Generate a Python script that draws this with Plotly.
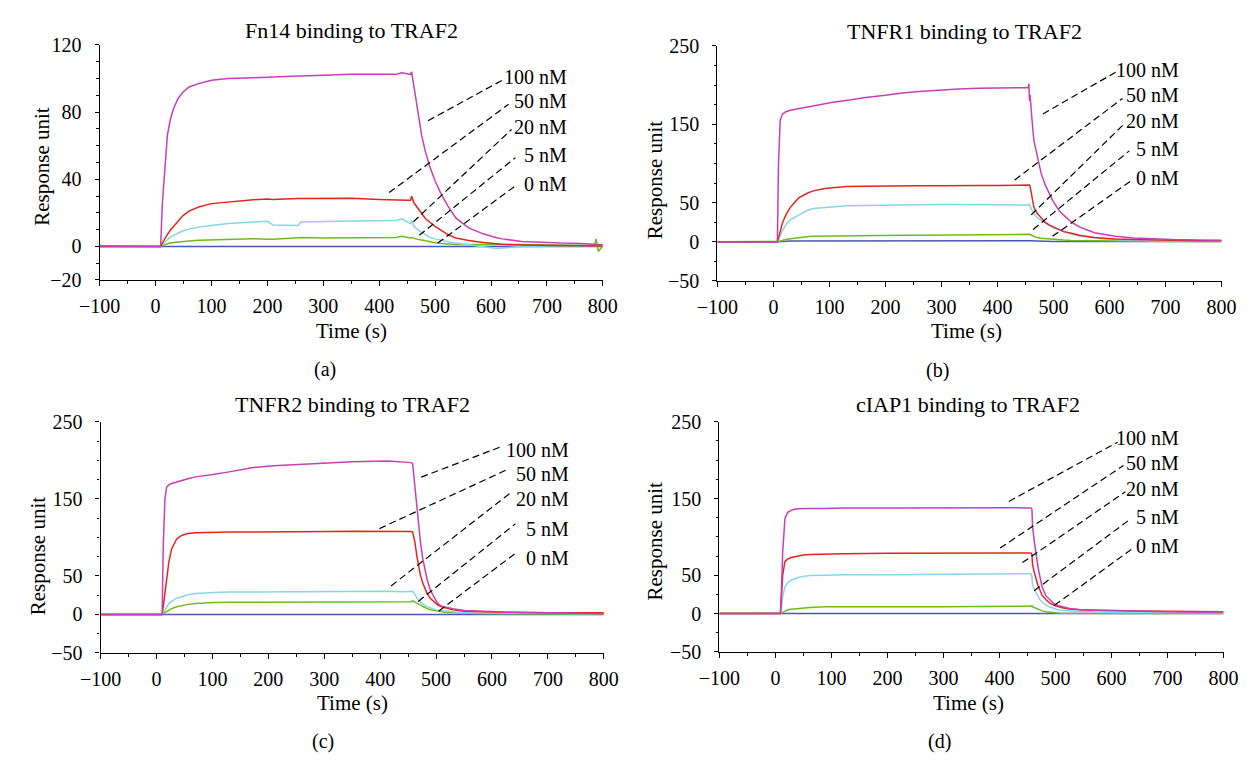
import plotly.graph_objects as go

W, H = 1256, 762
FONT = "Liberation Serif"

# ---------------- data ----------------
SERIES = ["100 nM", "50 nM", "20 nM", "5 nM", "0 nM"]
COLORS = ["#c83fb5", "#e2261d", "#88d5e6", "#6dbd1a", "#4a57b8"]
TITLES = ["Fn14 binding to TRAF2", "TNFR1 binding to TRAF2",
          "TNFR2 binding to TRAF2", "cIAP1 binding to TRAF2"]
TAGS = ["(a)", "(b)", "(c)", "(d)"]
X_TITLE = "Time (s)"
Y_TITLE = "Response unit"
X_TICKS = [-100, 0, 100, 200, 300, 400, 500, 600, 700, 800]
X_MINOR = [-50, 50, 150, 250, 350, 450, 550, 650, 750]
YA_TICKS = [-20, 0, 40, 80, 120]
YA_MINOR = [-10, 10, 20, 30, 50, 60, 70, 90, 100, 110]
YB_TICKS = [-50, 0, 50, 150, 250]
YB_MINOR = [-25, 25, 75, 100, 125, 175, 200, 225]

# Panel (a) Fn14
TA = [-100, -50, 0, 9, 12, 16, 21, 26,
      32, 40, 49, 60, 77, 100, 130, 175,
      200, 210, 255, 260, 300, 350, 400, 430,
      440, 450, 456, 458, 462, 469, 476, 483,
      490, 500, 511, 523, 537, 560, 586, 610,
      620, 655, 700, 725, 760, 785, 788, 792, 800]
A_100 = [0.3, 0, 0, 0, 25, 45, 66, 75,
         82, 88, 92, 95, 97, 99, 100, 100.5,
         101, 101, 101.5, 101.5, 102, 102.5, 102.5, 102.5,
         103.5, 103, 102.5, 104, 95, 81, 66, 56,
         48, 39, 31, 24, 17, 11, 7.5, 5.2,
         4.5, 3, 2.2, 2, 1.8, 1.5, 1.5, 1.2, 1]
A_50 = [0, 0, 0, 0, 2, 4.5, 7, 9.5,
        12, 15, 18.4, 21, 23.5, 25.5, 26.5, 27.8,
        28.3, 28, 28.5, 28.5, 28.5, 28.7, 28, 27.5,
        27.3, 27.5, 27.5, 30, 26, 22.5, 19.6, 16.5,
        14.5, 12, 9.5, 7, 5, 3.5, 2.3, 1.5,
        1.3, 0.9, 0.7, 0.5, 0.5, 0.4, 0.4, 0.3, 0.3]
A_20 = [0, 0, 0, 0, 1, 2.5, 4, 5.5,
        6.5, 8, 9.3, 10.3, 11.5, 12.5, 13.6, 14.5,
        15, 12.8, 12.5, 14.5, 15, 15.2, 15.3, 15.5,
        16.5, 14.5, 13.5, 15.5, 12, 10, 8.5, 7,
        5.5, 4.5, 3.5, 2.8, 2, 1, 0, -1.2,
        -1, 0, 0.3, 0.3, 0.3, 0.3, 0.3, 0.3, 0.3]
A_5 = [0, -0.2, 0, 0, 0.5, 1, 1.5, 2,
       2.3, 2.7, 3, 3.3, 3.7, 4, 4.3, 4.6,
       4.3, 4.3, 5.2, 5.3, 5, 5, 5.2, 5.3,
       6, 5.2, 5, 5.3, 4.8, 4.2, 3.8, 3.3,
       3, 2.2, 1.8, 1.5, 1.2, 1.2, 1.2, 1.3,
       1.5, 1.2, 0.8, 0.7, 0.6, 0.5, 4.5, -3, 0.5]
A0_T = [-100, 800]
A_0 = [0, 0]

# Panel (b) TNFR1
TB = [-100, -50, 0, 7, 9, 12, 16, 22,
      30, 45, 60, 71, 92, 106, 130, 161,
      200, 230, 260, 298, 330, 367, 400, 443,
      455, 456, 457, 458, 459, 462, 465, 470,
      478, 485, 492, 499, 510, 518, 532, 546,
      573, 587, 610, 643, 680, 712, 760, 800]
B_100 = [0, 0, 0, 0, 100, 155, 163, 166,
         168, 170, 172, 174, 176.5, 178, 180.5, 184,
         187, 190, 192, 194, 195, 196, 196.5, 197,
         197, 202, 180, 188, 175, 152, 129, 113,
         87, 73, 62, 52, 40, 34, 25, 19,
         11.5, 9.5, 7, 5, 3.5, 2.8, 2.2, 2]
B_50 = [0, 0, 0, 0, 5, 14, 24, 34,
        44, 56, 62, 65, 68, 69, 70.5, 71,
        71.5, 71.5, 71.5, 71.5, 72, 72, 72, 72,
        72, 72.5, 72.5, 71, 67, 55, 44, 37,
        30, 25, 21.5, 19, 15, 13, 11, 8.5,
        5.5, 4.5, 3.5, 2.8, 2.2, 1.8, 1.5, 1.5]
B_20 = [0, 0, 0, 0, 3, 8, 14, 22,
        28, 34, 40, 42.5, 44, 45, 46, 46.5,
        47, 47, 47.5, 47.5, 47.5, 47.5, 47.5, 47,
        47, 48, 48, 46, 44, 40, 36, 31.5,
        27, 24, 20.5, 18, 15, 13, 10, 7.5,
        5, 4, 3, 2, 1.5, 1.2, 1, 1]
B_5 = [0, 0, 0, 0, 0.5, 1, 2, 3,
       4, 5.5, 6.5, 7, 7.3, 7.5, 7.8, 8,
       8.2, 8.3, 8.3, 8.5, 8.5, 8.8, 9, 9.5,
       10, 10, 10, 9.5, 9, 8, 7, 5.5,
       4.5, 4, 3.5, 3, 2.5, 2.2, 1.8, 1.5,
       1.2, 1, 1, 0.8, 0.7, 0.6, 0.5, 0.5]
B0_T = [-100, 0, 8, 30, 200, 455, 458, 500, 800]
B_0 = [0, 0, 0, 1, 1.5, 2, 1.5, 0.5, 0.5]

# Panel (c) TNFR2
TC = [-100, -50, 0, 10, 12, 15, 18, 22,
      27, 36, 45, 56, 70, 90, 104, 130,
      173, 210, 242, 280, 311, 350, 414, 440,
      455, 458, 462, 466, 469, 472, 476, 479,
      484, 490, 497, 503, 510, 518, 530, 551,
      580, 620, 700, 800]
C_100 = [0, 0, 0, 0, 90, 150, 165, 168,
         170, 172, 174, 176, 178.5, 181, 182, 185,
         190.6, 193, 194, 196, 197, 198, 199, 198,
         197, 196, 168, 136, 112, 94, 73, 61,
         45, 31, 21, 14, 10.5, 9, 7.5, 5,
         4, 3, 2, 1]
C_50 = [0, 0, 0, 0, 10, 30, 50, 68,
        85, 98, 102.5, 105, 106, 106.5, 106.6, 107,
        107, 107, 107, 107.5, 107.5, 108, 108, 108,
        107.5, 107, 94, 74, 60, 51, 41, 35,
        27, 20.5, 15.5, 12, 10, 8, 6, 4,
        3.2, 2.7, 2.3, 2]
C_20 = [0, 0, 0, 0, 2, 6, 10, 14,
        17, 21, 23, 25.5, 27, 28, 28.5, 29,
        29.2, 29.5, 29.5, 29.5, 29.8, 30, 30, 29.5,
        29.5, 30, 26, 21, 18, 16, 13.5, 12,
        10, 8, 6.5, 5.5, 5, 4, 3, 2.2,
        1.8, 1.4, 1.1, 1]
C_5 = [0, 0, 0, 0, 1, 2.5, 4, 6,
       7.5, 10, 11.5, 13, 14, 15, 15.5, 15.8,
       16, 16.2, 16, 16.2, 16.3, 16.5, 16.5, 16.5,
       16.5, 17.5, 16, 14, 12.5, 11.5, 10, 9,
       7.5, 6, 5, 4, 3.2, 2.5, 2, 1.5,
       1.2, 1, 0.7, 0.5]
C0_T = [-100, 800]
C_0 = [0, 0]

# Panel (d) cIAP1
TD = [-100, -50, 0, 9, 11, 13, 17, 22,
      28, 34, 41, 50, 62, 88, 123, 200,
      300, 390, 430, 450, 456, 458, 459, 462,
      466, 469, 472, 476, 483, 490, 498, 504,
      510, 516, 525, 537, 544, 572, 607, 650,
      700, 750, 800]
D_100 = [0, 0, 0, 0, 35, 80, 124, 132,
         134.5, 136, 136.5, 137, 137, 137, 137.5, 137.5,
         138, 138, 138, 137.5, 137.5, 136, 114, 95,
         73, 60, 49, 35, 23, 17.5, 12.5, 10.5,
         9.5, 8, 6.5, 5.5, 5, 4.2, 3.5, 3,
         2.5, 2.2, 2]
D_50 = [0, 0, 0, 0, 25, 50, 68, 71,
        73, 74, 75.5, 76.5, 77, 77.5, 78, 78.5,
        78.5, 79, 79, 79, 79, 77, 64, 54,
        42.5, 36, 31, 24, 18, 13.5, 10.5, 9,
        8, 7, 6, 5.2, 5, 4.5, 3.8, 3.3,
        3, 2.7, 2.5]
D_20 = [0, 0, 0, 0, 10, 22, 35, 40,
        43.5, 45.5, 47, 48.5, 49.5, 50, 50.5, 50.5,
        51, 51, 51.5, 52, 52, 48, 38, 32,
        26, 22, 18.5, 15, 11, 8.5, 6, 5,
        4.3, 3.8, 3.3, 3, 2.8, 2, 1.5, 1.3,
        1.2, 1, 1]
D_5 = [0, 0, 0, 0, 0.5, 1.5, 3, 5,
       5.8, 6.3, 6.8, 7.3, 7.8, 8.8, 9, 9,
       9, 10, 9.5, 9.5, 9.5, 10.5, 9, 8,
       6.5, 5.5, 4.5, 3.5, 2.3, 1.5, 1, 0.8,
       0.6, 0.5, 0.4, 0.3, 0.3, 0.2, 0.1, 0,
       0, 0, 0]
D0_T = [-100, 800]
D_0 = [0, 0]

PANEL_DATA = [
    (TA, [A_100, A_50, A_20, A_5], A0_T, A_0),
    (TB, [B_100, B_50, B_20, B_5], B0_T, B_0),
    (TC, [C_100, C_50, C_20, C_5], C0_T, C_0),
    (TD, [D_100, D_50, D_20, D_5], D0_T, D_0),
]

# ---------------- layout geometry (pixels) ----------------
PLOT_BOX = [(81, 599, 35, 277), (717, 1236, 36, 278),
            (82, 600, 423, 661), (719, 1238, 423, 660)]
Y_RANGES = [(-20, 120), (-50, 250), (-50, 250), (-50, 250)]
TITLE_POS = [(340, 20), (971, 21), (341, 405), (975, 405)]
YTITLE_POS = [(22, 160), (653, 174), (17, 561), (653, 546)]
XTITLE_POS = [(340, 329), (973, 330), (341, 713), (975, 713)]
TAG_POS = [(313, 369), (944, 370), (311, 752), (946, 752)]
LABEL_RIGHT = [563, 1193, 565, 1193]
LABEL_Y = [[68, 93, 119, 148, 178], [61, 86, 113, 142, 172],
           [452, 477, 503, 533, 563], [440, 465, 492, 521, 551]]
LEADERS = [
    [(419, 113, 496, 71), (379, 187, 502, 96), (404, 217, 505, 122),
     (410, 231, 509, 151), (429, 239, 509, 180)],
    [(1052, 106, 1127, 63), (1023, 174, 1134, 90), (1040, 210, 1136, 116),
     (1042, 225, 1141, 144), (1062, 232, 1144, 174)],
    [(412, 480, 496, 448), (369, 533, 501, 472), (381, 592, 503, 497),
     (409, 608, 509, 528), (430, 618, 511, 557)],
    [(1017, 505, 1129, 444), (1008, 553, 1135, 468), (1031, 568, 1137, 495),
     (1043, 597, 1141, 524), (1064, 612, 1145, 553)],
]


def px(x):
    return x / W


def py(y):
    return 1 - y / H


fig = go.Figure()
annotations = []
shapes = []
layout = {}


def txt(text, pos, size=20, angle=0, xanchor="center"):
    annotations.append(dict(text=text, x=px(pos[0]), y=py(pos[1]),
                            xref="paper", yref="paper", showarrow=False,
                            xanchor=xanchor, yanchor="middle", textangle=angle,
                            borderpad=0,
                            font=dict(family=FONT, size=size, color="black")))


for i in range(4):
    xa = "x" if i == 0 else f"x{i+1}"
    ya = "y" if i == 0 else f"y{i+1}"
    xkey = "xaxis" if i == 0 else f"xaxis{i+1}"
    ykey = "yaxis" if i == 0 else f"yaxis{i+1}"
    t, vals, t0, v0 = PANEL_DATA[i]
    # blue (0 nM) first, then 5, 20, 50, 100 on top
    fig.add_trace(go.Scatter(x=t0, y=v0, mode="lines", xaxis=xa, yaxis=ya,
                             line=dict(color=COLORS[4], width=1.5),
                             showlegend=False, hoverinfo="skip"))
    for k in [3, 2, 1, 0]:
        fig.add_trace(go.Scatter(x=t, y=vals[k], mode="lines", xaxis=xa, yaxis=ya,
                                 line=dict(color=COLORS[k], width=1.5),
                                 showlegend=False, hoverinfo="skip"))
    x0, x1, y0, y1 = PLOT_BOX[i]
    yt = YA_TICKS if i == 0 else YB_TICKS
    ym = YA_MINOR if i == 0 else YB_MINOR
    layout[xkey] = dict(
        domain=[px(x0), px(x1)], anchor=ya, range=[-100, 800],
        tickmode="array", tickvals=X_TICKS,
        ticktext=[str(v).replace("-", "\u2212") for v in X_TICKS],
        showline=True, linecolor="black", linewidth=1.3,
        ticks="outside", ticklen=5, tickwidth=1.3, tickcolor="black",
        minor=dict(tickmode="array", tickvals=X_MINOR, ticks="outside",
                   ticklen=2.5, tickwidth=1.2, tickcolor="black"),
        showgrid=False, zeroline=False, ticklabelstandoff=3,
        tickfont=dict(family=FONT, size=20, color="black"),
    )
    layout[ykey] = dict(
        domain=[py(y1), py(y0)], anchor=xa, range=list(Y_RANGES[i]),
        tickmode="array", tickvals=yt,
        ticktext=[str(v).replace("-", "\u2212") for v in yt],
        showline=True, linecolor="black", linewidth=1.3,
        ticks="outside", ticklen=4, tickwidth=1.3, tickcolor="black",
        minor=dict(tickmode="array", tickvals=ym, ticks="outside",
                   ticklen=2.5, tickwidth=1.2, tickcolor="black"),
        showgrid=False, zeroline=False, ticklabelstandoff=9,
        tickfont=dict(family=FONT, size=20, color="black"),
    )

    txt(TITLES[i], TITLE_POS[i], size=22)
    txt(Y_TITLE, YTITLE_POS[i], size=21, angle=-90)
    txt(X_TITLE, XTITLE_POS[i], size=21)
    txt(TAGS[i], TAG_POS[i], size=20)
    for k in range(5):
        txt(SERIES[k], (LABEL_RIGHT[i], LABEL_Y[i][k]), size=20, xanchor="right")
        lx0, ly0, lx1, ly1 = LEADERS[i][k]
        shapes.append(dict(type="line", xref="paper", yref="paper",
                           x0=px(lx0), y0=py(ly0), x1=px(lx1), y1=py(ly1),
                           line=dict(color="black", width=1.2, dash="7px,4px")))

fig.update_layout(
    width=W, height=H, autosize=False,
    margin=dict(l=0, r=0, t=0, b=0),
    paper_bgcolor="white", plot_bgcolor="white",
    annotations=annotations, shapes=shapes, **layout,
)

fig.write_html("out.html", config={"displayModeBar": False},
               post_script="document.body.style.margin='0';")
